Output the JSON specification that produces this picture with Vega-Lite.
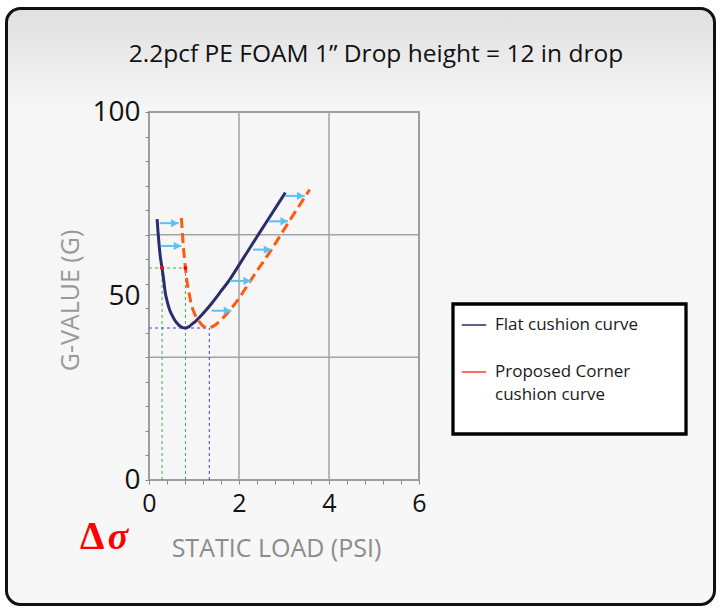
{
  "$schema": "https://vega.github.io/schema/vega-lite/v6.json",
  "width": 270,
  "height": 368,
  "autosize": {"type": "none"},
  "padding": {"left": 149, "top": 112, "right": 301, "bottom": 133},
  "background": "#ffffff",
  "title": {
    "text": "2.2pcf PE FOAM 1” Drop height = 12 in drop",
    "font": "Open Sans",
    "fontSize": 24.5,
    "fontWeight": "normal",
    "color": "#111111",
    "anchor": "middle",
    "frame": "group",
    "dx": 92,
    "offset": -80,
    "baseline": "alphabetic"
  },
  "config": {"view": {"stroke": null}},
  "data": {"values": [{}]},
  "datasets": {
    "curves": [
      {"series": "Flat cushion curve", "x": 0.18, "y": 70.9},
      {"series": "Flat cushion curve", "x": 0.2, "y": 67.5},
      {"series": "Flat cushion curve", "x": 0.22, "y": 64.5},
      {"series": "Flat cushion curve", "x": 0.245, "y": 61.3},
      {"series": "Flat cushion curve", "x": 0.29, "y": 57.6},
      {"series": "Flat cushion curve", "x": 0.33, "y": 54.0},
      {"series": "Flat cushion curve", "x": 0.36, "y": 51.0},
      {"series": "Flat cushion curve", "x": 0.41, "y": 48.3},
      {"series": "Flat cushion curve", "x": 0.46, "y": 46.2},
      {"series": "Flat cushion curve", "x": 0.52, "y": 44.6},
      {"series": "Flat cushion curve", "x": 0.57, "y": 43.5},
      {"series": "Flat cushion curve", "x": 0.63, "y": 42.5},
      {"series": "Flat cushion curve", "x": 0.7, "y": 41.7},
      {"series": "Flat cushion curve", "x": 0.8, "y": 41.3},
      {"series": "Flat cushion curve", "x": 0.88, "y": 41.6},
      {"series": "Flat cushion curve", "x": 0.95, "y": 42.3},
      {"series": "Flat cushion curve", "x": 1.04, "y": 43.2},
      {"series": "Flat cushion curve", "x": 1.13, "y": 44.3},
      {"series": "Flat cushion curve", "x": 1.25, "y": 45.9},
      {"series": "Flat cushion curve", "x": 1.4, "y": 48.1},
      {"series": "Flat cushion curve", "x": 1.6, "y": 51.3},
      {"series": "Flat cushion curve", "x": 1.79, "y": 54.4},
      {"series": "Flat cushion curve", "x": 2.02, "y": 58.8},
      {"series": "Flat cushion curve", "x": 2.3, "y": 64.2},
      {"series": "Flat cushion curve", "x": 2.6, "y": 69.9},
      {"series": "Flat cushion curve", "x": 3.03, "y": 78.1},
      {"series": "Proposed Corner cushion curve", "x": 0.72, "y": 71.2},
      {"series": "Proposed Corner cushion curve", "x": 0.74, "y": 67.5},
      {"series": "Proposed Corner cushion curve", "x": 0.76, "y": 64.0},
      {"series": "Proposed Corner cushion curve", "x": 0.785, "y": 60.5},
      {"series": "Proposed Corner cushion curve", "x": 0.81, "y": 57.6},
      {"series": "Proposed Corner cushion curve", "x": 0.85, "y": 53.5},
      {"series": "Proposed Corner cushion curve", "x": 0.89, "y": 50.8},
      {"series": "Proposed Corner cushion curve", "x": 0.93, "y": 48.3},
      {"series": "Proposed Corner cushion curve", "x": 0.98, "y": 46.2},
      {"series": "Proposed Corner cushion curve", "x": 1.03, "y": 44.7},
      {"series": "Proposed Corner cushion curve", "x": 1.09, "y": 43.5},
      {"series": "Proposed Corner cushion curve", "x": 1.18, "y": 42.1},
      {"series": "Proposed Corner cushion curve", "x": 1.3, "y": 41.3},
      {"series": "Proposed Corner cushion curve", "x": 1.4, "y": 41.6},
      {"series": "Proposed Corner cushion curve", "x": 1.5, "y": 42.4},
      {"series": "Proposed Corner cushion curve", "x": 1.61, "y": 43.6},
      {"series": "Proposed Corner cushion curve", "x": 1.75, "y": 45.5},
      {"series": "Proposed Corner cushion curve", "x": 1.9, "y": 47.7},
      {"series": "Proposed Corner cushion curve", "x": 2.05, "y": 50.3},
      {"series": "Proposed Corner cushion curve", "x": 2.3, "y": 55.0},
      {"series": "Proposed Corner cushion curve", "x": 2.72, "y": 62.6},
      {"series": "Proposed Corner cushion curve", "x": 3.1, "y": 70.0},
      {"series": "Proposed Corner cushion curve", "x": 3.57, "y": 78.9}
    ],
    "arrows": [
      {"y": 69.8, "x1": 0.24, "x2": 0.66},
      {"y": 63.6, "x1": 0.27, "x2": 0.72},
      {"y": 46.0, "x1": 1.39, "x2": 1.83},
      {"y": 54.1, "x1": 1.8, "x2": 2.27},
      {"y": 62.6, "x1": 2.31, "x2": 2.72},
      {"y": 70.3, "x1": 2.66, "x2": 3.09},
      {"y": 77.2, "x1": 3.02, "x2": 3.46}
    ],
    "greenGuides": [
      {"x1": 0, "x2": 0.81, "y1": 57.6, "y2": 57.6},
      {"x1": 0.29, "x2": 0.29, "y1": 0, "y2": 57.6},
      {"x1": 0.81, "x2": 0.81, "y1": 0, "y2": 57.6}
    ],
    "blueGuides": [
      {"x1": 0, "x2": 1.34, "y1": 41.3, "y2": 41.3},
      {"x1": 1.34, "x2": 1.34, "y1": 0, "y2": 41.3}
    ],
    "dots": [
      {"x": 0.29, "y": 57.6},
      {"x": 0.81, "y": 57.6}
    ]
  },
  "layer": [
    {
      "mark": {
        "type": "rect",
        "cornerRadius": 14,
        "stroke": "#111111",
        "strokeWidth": 3,
        "clip": false,
        "fill": {
          "gradient": "linear",
          "x1": 0, "y1": 0, "x2": 0, "y2": 1,
          "stops": [
            {"offset": 0, "color": "#e0e0e0"},
            {"offset": 0.17, "color": "#f6f6f6"},
            {"offset": 1, "color": "#f7f7f7"}
          ]
        }
      },
      "encoding": {
        "x": {
          "datum": -3.167,
          "type": "quantitative",
          "scale": {"domain": [0, 6], "nice": false, "zero": false},
          "axis": {
            "title": "STATIC LOAD (PSI)",
            "values": [0, 0.4, 0.8, 1.2, 1.6, 2, 2.4, 2.8, 3.2, 3.6, 4, 4.4, 4.8, 5.2, 5.6, 6],
            "tickCount": 100,
            "format": "~g",
            "labelExpr": "(datum.value == 0 || datum.value == 2 || datum.value == 4 || datum.value == 6) ? datum.label : ''",
            "grid": false,
            "domain": false,
            "ticks": true,
            "tickSize": 4,
            "tickColor": "#888888",
            "tickWidth": 1,
            "labelFont": "Open Sans",
            "labelFontSize": 25,
            "labelColor": "#111111",
            "labelPadding": 7,
            "labelOverlap": false,
            "labelFlush": false,
            "titleFont": "Open Sans",
            "titleFontSize": 25,
            "titleFontWeight": "normal",
            "titleColor": "#8c8c8c",
            "titleX": 127,
            "titleY": 76,
            "titleAlign": "center",
            "titleBaseline": "alphabetic",
            "zindex": 1
          }
        },
        "x2": {"datum": 12.567},
        "y": {
          "datum": 128.13,
          "type": "quantitative",
          "scale": {"domain": [0, 100], "nice": false, "zero": false},
          "axis": {
            "title": "G-VALUE (G)",
            "values": [0, 6.667, 13.333, 20, 26.667, 33.333, 40, 46.667, 50, 53.333, 60, 66.667, 73.333, 80, 86.667, 93.333, 100],
            "tickCount": 100,
            "format": "d",
            "labelExpr": "(datum.value == 0 || datum.value == 50 || datum.value == 100) ? datum.label : ''",
            "tickOpacity": {"condition": {"test": "datum.value == 50", "value": 0}, "value": 1},
            "grid": false,
            "domain": false,
            "ticks": true,
            "tickSize": 4,
            "tickColor": "#888888",
            "tickWidth": 1,
            "labelFont": "Open Sans",
            "labelFontSize": 28,
            "labelColor": "#111111",
            "labelPadding": 5,
            "labelOverlap": false,
            "labelFlush": false,
            "titleFont": "Open Sans",
            "titleFontSize": 25,
            "titleFontWeight": "normal",
            "titleColor": "#999999",
            "titleX": -79,
            "titleY": 188,
            "titleAngle": 270,
            "titleAlign": "center",
            "titleBaseline": "middle",
            "zindex": 1
          }
        },
        "y2": {"datum": -33.83}
      }
    },
    {"mark": {"type": "rule", "color": "#a3a3a3", "strokeWidth": 1.5}, "encoding": {"x": {"datum": 2, "type": "quantitative"}}},
    {"mark": {"type": "rule", "color": "#a3a3a3", "strokeWidth": 1.5}, "encoding": {"x": {"datum": 4, "type": "quantitative"}}},
    {"mark": {"type": "rule", "color": "#a3a3a3", "strokeWidth": 1.5}, "encoding": {"y": {"datum": 33.333, "type": "quantitative"}}},
    {"mark": {"type": "rule", "color": "#a3a3a3", "strokeWidth": 1.5}, "encoding": {"y": {"datum": 66.667, "type": "quantitative"}}},
    {
      "mark": {"type": "rect", "fill": "transparent", "stroke": "#9e9e9e", "strokeWidth": 2},
      "encoding": {
        "x": {"datum": 0, "type": "quantitative"},
        "x2": {"datum": 6},
        "y": {"datum": 0, "type": "quantitative"},
        "y2": {"datum": 100}
      }
    },
    {
      "data": {"name": "greenGuides"},
      "mark": {"type": "rule", "color": "#3cb043", "strokeWidth": 1, "strokeDash": [3, 3]},
      "encoding": {
        "x": {"field": "x1", "type": "quantitative"},
        "x2": {"field": "x2"},
        "y": {"field": "y1", "type": "quantitative"},
        "y2": {"field": "y2"}
      }
    },
    {
      "data": {"name": "blueGuides"},
      "mark": {"type": "rule", "color": "#3b3bff", "strokeWidth": 1, "strokeDash": [3, 3]},
      "encoding": {
        "x": {"field": "x1", "type": "quantitative"},
        "x2": {"field": "x2"},
        "y": {"field": "y1", "type": "quantitative"},
        "y2": {"field": "y2"}
      }
    },
    {
      "data": {"name": "curves"},
      "transform": [{"filter": "datum.series == 'Flat cushion curve'"}],
      "mark": {"type": "line", "strokeWidth": 3, "interpolate": "monotone", "strokeCap": "butt"},
      "encoding": {
        "x": {"field": "x", "type": "quantitative"},
        "y": {"field": "y", "type": "quantitative"},
        "color": {
          "field": "series",
          "type": "nominal",
          "scale": {"domain": ["Flat cushion curve", "Proposed Corner cushion curve"], "range": ["#2c2c6c", "#ff3b30"]},
          "legend": {
            "orient": "none",
            "legendX": 304,
            "legendY": 192,
            "title": null,
            "symbolType": "stroke",
            "symbolSize": 600,
            "symbolStrokeWidth": 1.5,
            "labelFont": "Open Sans",
            "labelFontSize": 17,
            "labelColor": "#1a1a1a",
            "labelOffset": 8,
            "labelLimit": 400,
            "padding": 8,
            "rowPadding": 26,
            "fillColor": "#ffffff",
            "strokeColor": "#000000",
            "labelExpr": "datum.label == 'Flat cushion curve' ? 'Flat cushion curve\u00a0\u00a0\u00a0\u00a0\u00a0\u00a0\u00a0\u00a0\u00a0\u200b' : ['Proposed Corner', 'cushion curve', '']",
            "encode": {
              "legend": {"update": {"strokeWidth": {"value": 3.3}}},
              "labels": {"update": {"lineHeight": {"value": 23}}}
            }
          }
        }
      }
    },
    {
      "data": {"name": "curves"},
      "transform": [{"filter": "datum.series == 'Proposed Corner cushion curve'"}],
      "mark": {"type": "line", "strokeWidth": 3, "interpolate": "monotone", "strokeCap": "butt", "strokeDash": [10, 5], "color": "#ff5a0f"},
      "encoding": {
        "x": {"field": "x", "type": "quantitative"},
        "y": {"field": "y", "type": "quantitative"}
      }
    },
    {
      "data": {"name": "arrows"},
      "mark": {"type": "rule", "color": "#5ec1f4", "strokeWidth": 2},
      "encoding": {
        "x": {"field": "x1", "type": "quantitative"},
        "x2": {"field": "x2"},
        "y": {"field": "y", "type": "quantitative"}
      }
    },
    {
      "data": {"name": "arrows"},
      "mark": {"type": "point", "shape": "triangle-right", "filled": true, "size": 70, "color": "#5ec1f4", "opacity": 1, "xOffset": -4},
      "encoding": {
        "x": {"field": "x2", "type": "quantitative"},
        "y": {"field": "y", "type": "quantitative"}
      }
    },
    {
      "data": {"name": "dots"},
      "mark": {"type": "point", "filled": true, "size": 16, "color": "#ff0000", "opacity": 1},
      "encoding": {
        "x": {"field": "x", "type": "quantitative"},
        "y": {"field": "y", "type": "quantitative"}
      }
    },
    {
      "mark": {"type": "text", "text": "Δ", "font": "Liberation Serif", "fontSize": 39, "fontWeight": "bold", "color": "#ff0000", "align": "center", "baseline": "alphabetic", "clip": false},
      "encoding": {
        "x": {"datum": -1.262, "type": "quantitative"},
        "y": {"datum": -18.63, "type": "quantitative"}
      }
    },
    {
      "mark": {"type": "text", "text": "σ", "font": "Liberation Serif", "fontSize": 38, "fontWeight": "bold", "fontStyle": "italic", "color": "#ff0000", "align": "center", "baseline": "alphabetic", "clip": false},
      "encoding": {
        "x": {"datum": -0.689, "type": "quantitative"},
        "y": {"datum": -18.63, "type": "quantitative"}
      }
    }
  ]
}
